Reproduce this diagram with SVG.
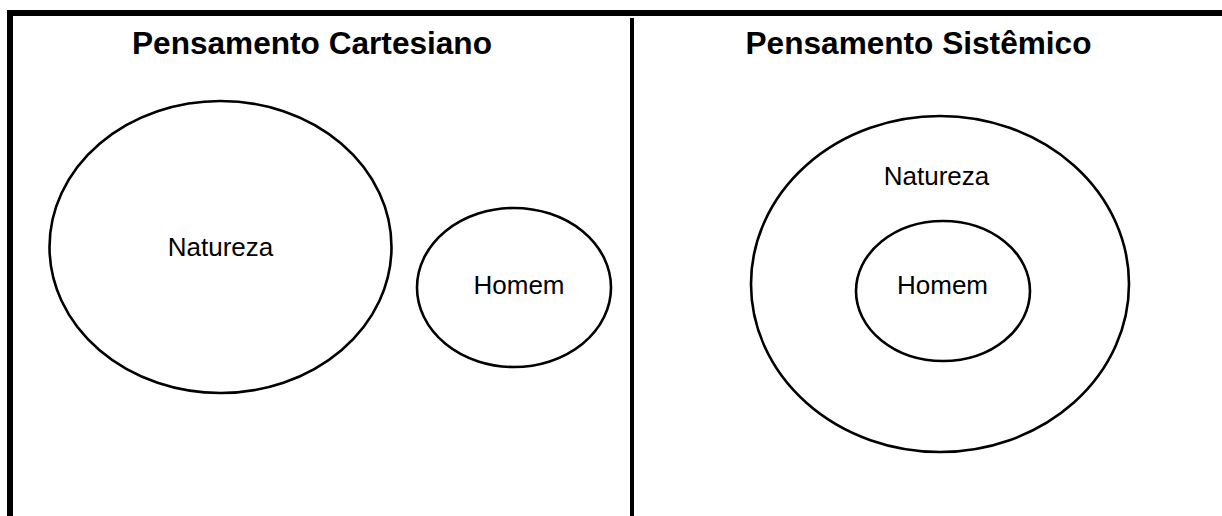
<svg xmlns="http://www.w3.org/2000/svg" width="1222" height="516" viewBox="0 0 1222 516">
<style>
.frame{fill:#000;}
.shape{fill:none;stroke:#000;stroke-width:2.6;}
.title{font-family:"Liberation Sans",Arial,sans-serif;font-weight:bold;font-size:31.6px;fill:#000;text-anchor:middle;}
.label{font-family:"Liberation Sans",Arial,sans-serif;font-size:26px;fill:#000;text-anchor:middle;}
</style>
<rect width="1222" height="516" fill="#fff"/>
<g id="frame">
<rect class="frame" x="7" y="10" width="1215" height="6"/>
<rect class="frame" x="7" y="10" width="6" height="506"/>
<rect class="frame" x="630" y="18" width="4" height="498"/>
</g>
<g id="title-cartesiano"><text class="title" x="312" y="54">Pensamento Cartesiano</text></g>
<g id="title-sistemico"><text class="title" x="918.5" y="54">Pensamento Sistêmico</text></g>
<g id="cart-natureza">
<ellipse class="shape" cx="220.5" cy="247" rx="171" ry="146"/>
<text class="label" x="220.5" y="256">Natureza</text>
</g>
<g id="cart-homem">
<ellipse class="shape" cx="514" cy="287.5" rx="97" ry="79.5"/>
<text class="label" x="519" y="294">Homem</text>
</g>
<g id="sist-natureza">
<ellipse class="shape" cx="940" cy="284" rx="189" ry="168"/>
<text class="label" x="936.5" y="185">Natureza</text>
</g>
<g id="sist-homem">
<ellipse class="shape" cx="943" cy="291" rx="87" ry="70"/>
<text class="label" x="942.5" y="294">Homem</text>
</g>
<g id="connectors"></g>
</svg>
